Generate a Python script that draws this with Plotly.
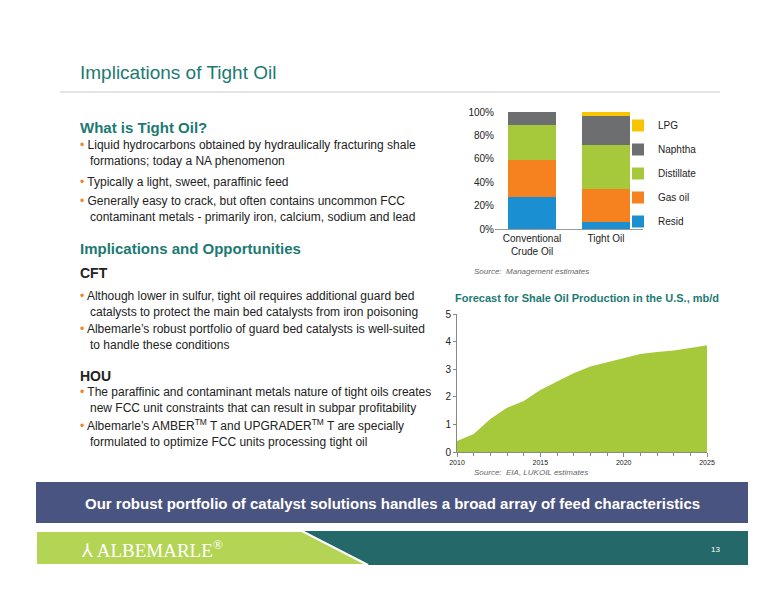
import plotly.graph_objects as go

W, H = 776, 600

# Data: product yields
bar_cats = ["Conventional<br>Crude Oil", "Tight Oil"]
products = ["Resid", "Gas oil", "Distillate", "Naphtha", "LPG"]
prod_colors = ["#1a8fd1", "#f5821f", "#a5c93b", "#6d6e70", "#f7c600"]
yields = {
    "Resid": [27, 6],
    "Gas oil": [32, 28],
    "Distillate": [30, 38],
    "Naphtha": [11, 25],
    "LPG": [0, 3],
}
pct_ticks = [0, 20, 40, 60, 80, 100]
pct_labels = ["0%", "20%", "40%", "60%", "80%", "100%"]

# Data: shale oil production forecast
years = list(range(2010, 2026))
production = [0.4, 0.65, 1.2, 1.6, 1.85, 2.25, 2.55, 2.85, 3.1, 3.25, 3.4, 3.55, 3.62, 3.68, 3.77, 3.87]

TEAL = "#1c7a72"
TXT = "#222222"
OFF = 8  # page body margin


def px(x):
    return (x - OFF) / W


def py(y):
    return 1 - (y - OFF) / H


fig = go.Figure()

for i, (p, c) in enumerate(zip(products, prod_colors)):
    fig.add_trace(go.Bar(x=bar_cats, y=yields[p], name=p, marker=dict(color=c, line_width=0),
                         width=0.65, legendgroup=p, legendrank=100 - i, xaxis="x", yaxis="y"))

fig.add_trace(go.Scatter(x=years, y=production, fill="tozeroy", mode="lines",
                         line=dict(color="#a5c93b", width=0), fillcolor="#a5c93b",
                         showlegend=False, xaxis="x2", yaxis="y2"))

fig.update_layout(
    width=W, height=H, margin=dict(l=0, r=0, t=0, b=0, autoexpand=False),
    paper_bgcolor="white", plot_bgcolor="white",
    font=dict(family="Liberation Sans, Arial", color=TXT, size=10),
    barmode="stack",
    xaxis=dict(domain=[px(495), px(643)], showline=True, linecolor="#999", ticks="",
               tickfont=dict(size=10)),
    yaxis=dict(domain=[py(229), py(112)], range=[0, 100], tickvals=pct_ticks, ticktext=pct_labels,
               showgrid=False, showline=False, tickfont=dict(size=10)),
    xaxis2=dict(domain=[px(457), px(707)], range=[2010, 2025], tickvals=[2010, 2015, 2020, 2025],
                showline=True, linecolor="#888", ticks="outside", ticklen=4, tickcolor="#888",
                minor=dict(dtick=1, ticks="outside", ticklen=3, tickcolor="#888"),
                tickfont=dict(size=7), showgrid=False, anchor="y2"),
    yaxis2=dict(domain=[py(452), py(314)], range=[0, 5], dtick=1, showgrid=False,
                showline=True, linecolor="#888", ticks="outside", ticklen=3, tickcolor="#888",
                tickfont=dict(size=10), anchor="x2"),
    legend=dict(x=px(618), y=py(111), xanchor="left", yanchor="top", traceorder="grouped",
                font=dict(size=10), itemwidth=30, tracegroupgap=5, bgcolor="rgba(0,0,0,0)"),
)

shapes = [
    dict(type="line", x0=px(60), x1=px(720), y0=py(92), y1=py(92), line=dict(color="#cccccc", width=1)),
    dict(type="rect", x0=px(36), x1=px(748), y0=py(482), y1=py(523), fillcolor="#4a5480", line_width=0),
    dict(type="rect", x0=px(36), x1=px(748), y0=py(531), y1=py(565), fillcolor="#24686a", line_width=0),
    dict(type="path", path=f"M {px(36)},{py(531)} L {px(302)},{py(531)} L {px(368)},{py(565)} L {px(36)},{py(565)} Z",
         fillcolor="#b4d455", line=dict(color="white", width=2)),
]
for s in shapes:
    s.update(xref="paper", yref="paper", layer="below" if s["type"] != "line" else "above")
fig.update_layout(shapes=shapes)

ann = []


def text(x, y, t, size=12, color=TXT, bold=False, anchor="left", italic=False, family=None):
    if bold:
        t = f"<b>{t}</b>"
    if italic:
        t = f"<i>{t}</i>"
    d = dict(x=px(x), y=py(y), xref="paper", yref="paper", text=t, showarrow=False,
             xanchor=anchor, yanchor="middle", align="left", font=dict(size=size, color=color))
    if family:
        d["font"]["family"] = family
    ann.append(d)


B = "<span style='color:#f5821f'>•</span> "
text(78, 72, "Implications of Tight Oil", size=19, color=TEAL)
text(78, 127, "What is Tight Oil?", size=15, color=TEAL, bold=True)
text(78, 153, B + "Liquid hydrocarbons obtained by hydraulically fracturing shale<br>   formations; today a NA phenomenon", size=12)
text(78, 182, B + "Typically a light, sweet, paraffinic feed", size=12)
text(78, 209, B + "Generally easy to crack, but often contains uncommon FCC<br>   contaminant metals - primarily iron, calcium, sodium and lead", size=12)
text(78, 249, "Implications and Opportunities", size=15, color=TEAL, bold=True)
text(78, 273, "CFT", size=14, bold=True)
text(78, 304, B + "Although lower in sulfur, tight oil requires additional guard bed<br>   catalysts to protect the main bed catalysts from iron poisoning", size=12)
text(78, 337, B + "Albemarle’s robust portfolio of guard bed catalysts is well-suited<br>   to handle these conditions", size=12)
text(78, 376, "HOU", size=14, bold=True)
text(78, 400, B + "The paraffinic and contaminant metals nature of tight oils creates<br>   new FCC unit constraints that can result in subpar profitability", size=12)
text(78, 433, B + "Albemarle’s AMBER<sup>TM</sup> T and UPGRADER<sup>TM</sup> T are specially<br>   formulated to optimize FCC units processing tight oil", size=12)
text(472, 271, "Source:  Management estimates", size=8, color="#666", italic=True)
text(453, 298, "Forecast for Shale Oil Production in the U.S., mb/d", size=11, color=TEAL, bold=True)
text(472, 472, "Source:  EIA, LUKOIL estimates", size=8, color="#666", italic=True)
text(392, 503, "Our robust portfolio of catalyst solutions handles a broad array of feed characteristics",
     size=15, color="white", bold=True, anchor="center")
text(80, 549, "⅄ ALBEMARLE<sup>®</sup>", size=19, color="white", family="Liberation Serif, Times New Roman")
text(722, 549, "13", size=8, color="white", anchor="right")
fig.update_layout(annotations=ann)

fig.write_html("out.html")
